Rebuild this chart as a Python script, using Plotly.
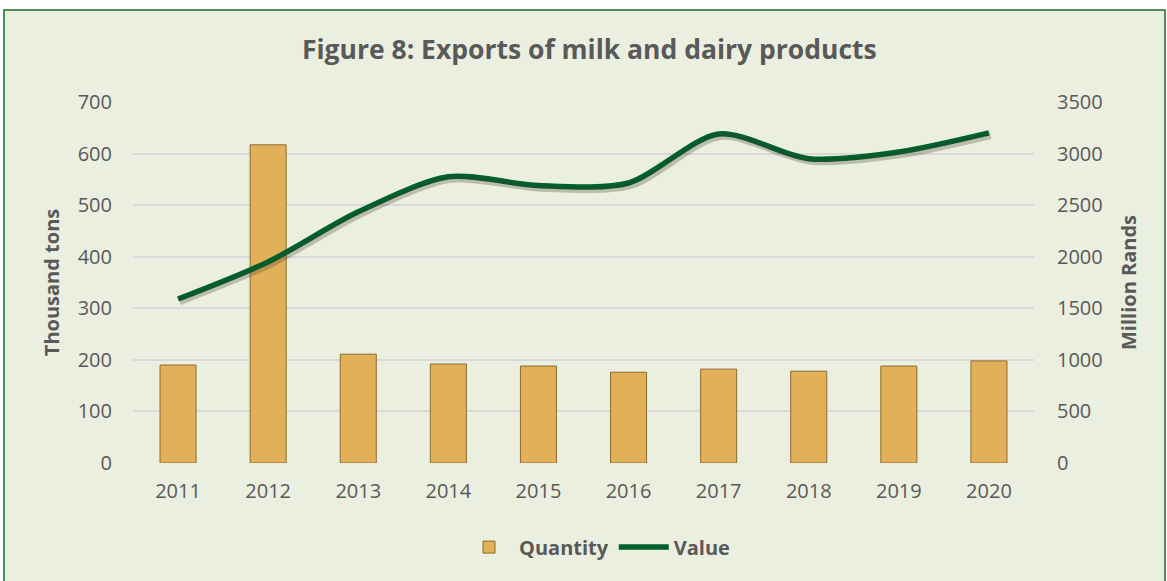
import plotly.graph_objects as go

years = ["2011", "2012", "2013", "2014", "2015", "2016", "2017", "2018", "2019", "2020"]
quantity = [190, 617, 211, 192, 188, 176, 182, 178, 188, 198]
value = [1590, 1950, 2435, 2775, 2690, 2715, 3190, 2950, 3015, 3200]

grey = "#595959"
font = "Open Sans"

fig = go.Figure()
fig.add_trace(go.Bar(
    x=years, y=quantity, name="<b>Quantity</b>", width=0.4,
    marker=dict(color="#E3B05A", line=dict(color="#8C6B2F", width=1)),
))
# soft drop shadow under the value line (same data, axes nudged a few px)
fig.add_trace(go.Scatter(
    x=years, y=value, xaxis="x2", yaxis="y3", mode="lines", showlegend=False,
    hoverinfo="skip",
    line=dict(color="rgba(60,60,40,0.28)", width=6, shape="spline", smoothing=0.8),
))
fig.add_trace(go.Scatter(
    x=years, y=value, name="<b>Value</b>", yaxis="y2", mode="lines",
    line=dict(color="#00602B", width=5.5, shape="spline", smoothing=0.8),
))

fig.update_layout(
    width=1167, height=581,
    margin=dict(l=133, r=133, t=102, b=118),
    paper_bgcolor="white",
    plot_bgcolor="rgba(0,0,0,0)",
    font=dict(family=font, color=grey, size=20),
    title=dict(text="<b>Figure 8: Exports of milk and dairy products</b>",
               x=0.505, xanchor="center", y=0.914, yanchor="middle",
               font=dict(size=26.5, color=grey, family=font)),
    xaxis=dict(showgrid=False, ticks="", tickfont=dict(size=20), showline=False,
               ticklabelstandoff=14),
    xaxis2=dict(overlaying="x", visible=False, range=[-0.52, 9.48]),
    yaxis=dict(range=[0, 700], dtick=100, showgrid=True, gridcolor="#D9D9D9", gridwidth=1.5,
               zeroline=False, ticks="", tickfont=dict(size=20), ticklabelstandoff=20,
               title=dict(text="<b>Thousand tons</b>", font=dict(size=20), standoff=12)),
    yaxis2=dict(range=[0, 3500], dtick=500, overlaying="y", side="right", showgrid=False,
                zeroline=False, ticks="", tickfont=dict(size=20), ticklabelstandoff=22,
                title=dict(text="<b>Million Rands</b>", font=dict(size=20), standoff=20)),
    yaxis3=dict(range=[30, 3530], overlaying="y", visible=False),
    legend=dict(orientation="h", x=0.515, xanchor="center", y=-0.233, yanchor="middle",
                font=dict(size=20), bgcolor="rgba(0,0,0,0)", traceorder="normal",
                itemwidth=50),
    shapes=[dict(type="rect", xref="paper", yref="paper", layer="below",
                 x0=-0.1432, x1=1.1454, y0=-0.34, y1=1.2548,
                 fillcolor="#EBEFDF", line=dict(color="#1B6B30", width=1.5))],
)

fig.write_html("out.html", config={"displayModeBar": False},
               post_script="document.body.style.margin='0px';")
